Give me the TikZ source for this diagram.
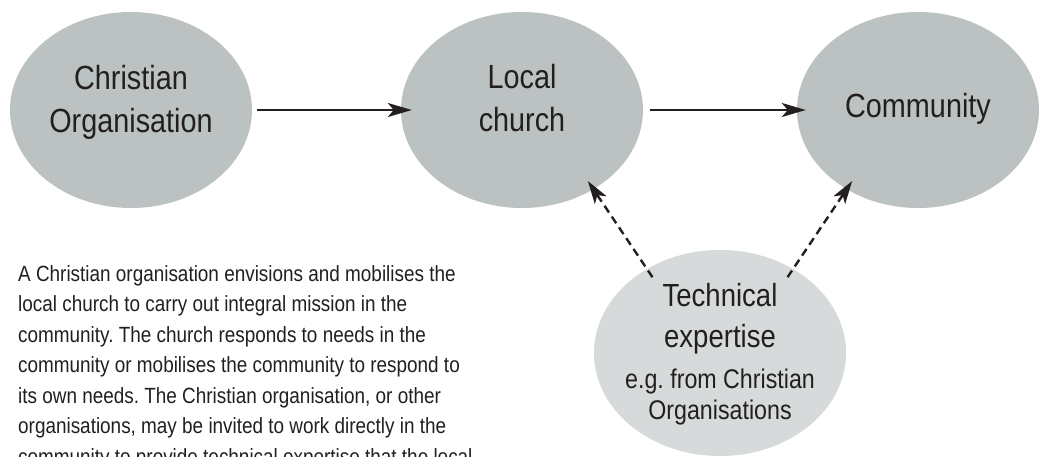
\documentclass[tikz,border=0pt]{standalone}
\usepackage{fontspec}
\setmainfont[FakeStretch=0.86]{Liberation Sans}
\usetikzlibrary{shapes.geometric,arrows.meta}
\definecolor{blobgray}{HTML}{BCC2C2}
\definecolor{lightblob}{HTML}{D6DADA}
\definecolor{ink}{HTML}{231F20}
\frenchspacing
\tikzset{
  blob/.style={ellipse, fill=blobgray, draw=none, inner sep=0pt, minimum width=242pt, minimum height=196pt},
  lblob/.style={ellipse, fill=lightblob, draw=none, inner sep=0pt, minimum width=252pt, minimum height=206pt},
  biglbl/.style={align=center, inner sep=0pt, text=ink, font=\fontsize{33.5}{43}\selectfont},
  techlbl/.style={align=center, inner sep=0pt, text=ink, font=\fontsize{32}{41}\selectfont},
  smalllbl/.style={align=center, inner sep=0pt, text=ink, font=\fontsize{27}{31}\selectfont},
  para/.style={align=left, inner sep=0pt, text=ink, anchor=north west, font=\fontsize{22}{30.5}\selectfont},
  arr/.style={draw=ink, line width=2.2pt, -{Stealth[length=24pt,width=14pt,inset=6pt]}},
  darr/.style={draw=ink, line width=2.4pt, dash pattern=on 8pt off 5pt, -{Stealth[length=23pt,width=14pt,inset=6pt]}}
}
\begin{document}
\begin{tikzpicture}[x=1pt,y=-1pt]
\clip (0,0) rectangle (1041,457);
\fill[white] (0,0) rectangle (1041,457);
\node[blob] (co) at (131,110) {};
\node[blob] (lc) at (522,110) {};
\node[blob] (cm) at (918,110) {};
\node[lblob] (te) at (720,353) {};
\node[biglbl] (colbl) at (131,102) {Christian\\Organisation};
\node[biglbl] (lclbl) at (522,98.5) {Local\\church};
\node[biglbl] (cmlbl) at (918,108.5) {Community};
\node[techlbl] (telbl) at (720,319) {Technical\\expertise};
\node[smalllbl] (tesub) at (720,397) {e.g. from Christian\\Organisations};
\draw[arr, shorten <=5pt, shorten >=-11pt] (co) -- (lc);
\draw[arr, shorten <=7pt, shorten >=-9pt] (lc) -- (cm);
\draw[darr, shorten <=-10pt, shorten >=-10pt] (te.131) -- (lc.-48.8);
\draw[darr, shorten <=-10pt, shorten >=-10pt] (te.49.5) -- (cm.228.8);
\node[para] (txt) at (18,265) {A Christian organisation envisions and mobilises the\\
local church to carry out integral mission in the\\
community. The church responds to needs in the\\
community or mobilises the community to respond to\\
its own needs. The Christian organisation, or other\\
organisations, may be invited to work directly in the\\
community to provide technical expertise that the local};
\end{tikzpicture}
\end{document}
